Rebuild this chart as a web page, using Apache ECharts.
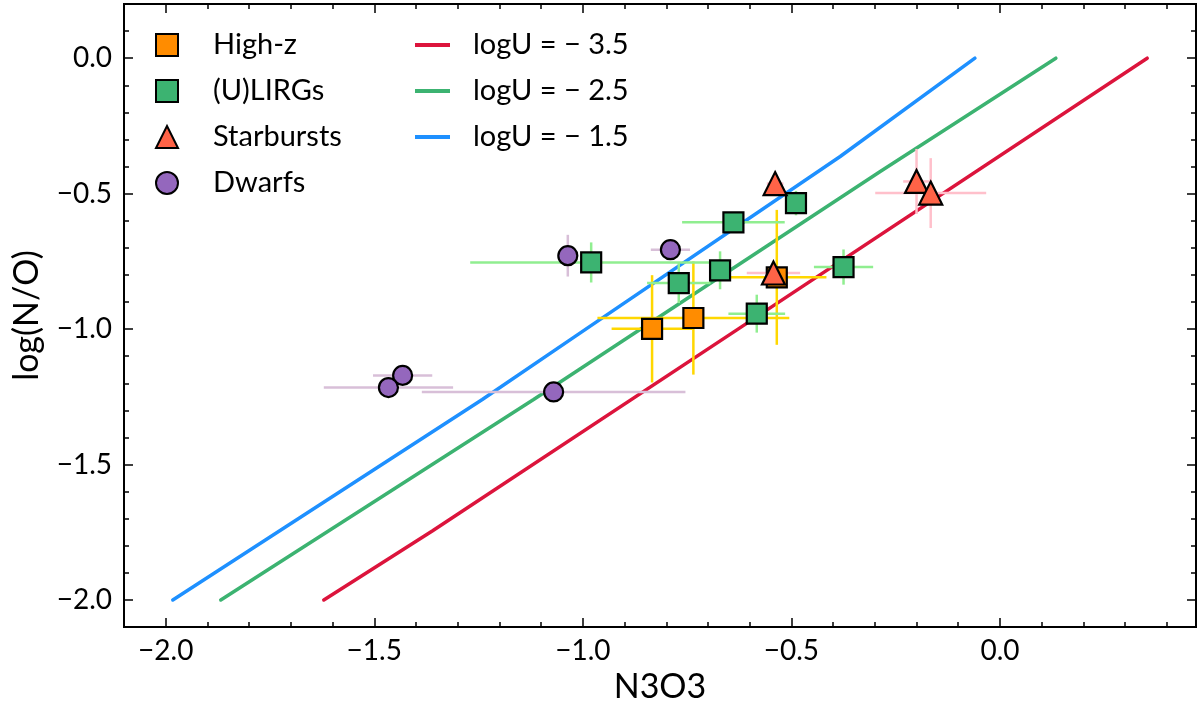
<!DOCTYPE html>
<html>
<head>
<meta charset="utf-8">
<script src="https://cdn.jsdelivr.net/npm/echarts@6/dist/echarts.min.js"></script>
<style>
  html, body { margin: 0; padding: 0; background: #fff; }
  #main { width: 1200px; height: 709px; }
</style>
</head>
<body>
<div id="main"></div>
<script>
// tick labels
var xMajor = [-2.0, -1.5, -1.0, -0.5, 0.0];
var yMajor = [-2.0, -1.5, -1.0, -0.5, 0.0];

// High-z
var highzX = [-0.834, -0.735, -0.535];
var highzY = [-0.999, -0.959, -0.809];
var highzXerr = [0.097, 0.23, 0.119];
var highzYerr = [0.198, 0.209, 0.249];

// (U)LIRGs
var ulirgX = [-0.980, -0.639, -0.489, -0.770, -0.671, -0.583, -0.375];
var ulirgY = [-0.754, -0.606, -0.535, -0.830, -0.783, -0.943, -0.771];
var ulirgXerr = [0.29, 0.123, 0.02, 0.076, 0.02, 0.068, 0.071];
var ulirgYerr = [0.074, 0.03, 0.045, 0.074, 0.07, 0.07, 0.065];

// Starbursts
var sbX = [-0.539, -0.543, -0.200, -0.166];
var sbY = [-0.463, -0.793, -0.455, -0.498];
var sbXerr = [0.02, 0.064, 0.032, 0.133];
var sbYerr = [0.02, 0.02, 0.12, 0.129];

// Dwarfs
var dwX = [-1.036, -0.790, -1.432, -1.466, -1.070];
var dwY = [-0.729, -0.707, -1.171, -1.216, -1.232];
var dwXerr = [0.02, 0.047, 0.071, 0.155, 0.316];
var dwYerr = [0.077, 0.03, 0.035, 0.02, 0.02];

// model lines
var redX = [-1.621, -1.361, -0.628, 0.353];
var redY = [-2.0, -1.745, -1.0, 0.0];
var greenX = [-1.868, -1.118, -0.287, 0.134];
var greenY = [-2.0, -1.26, -0.418, 0.0];
var blueX = [-1.983, -1.241, -1.006, -0.383, -0.06];
var blueY = [-2.0, -1.26, -1.014, -0.363, 0.0];

var FONT = 'Lato';

function minorTicks(lo, hi) {
	var out = [];
	for (var i = Math.round(lo * 10); i <= Math.round(hi * 10); i++) {
		if (i % 5 !== 0) out.push(i / 10);
	}
	return out;
}
var xMinor = minorTicks(-2.1, 0.4);
var yMinor = minorTicks(-2.1, 0.2);

function fmt(v) {
	return (v < -1e-9 ? '\u2212' : '') + Math.abs(v).toFixed(1);
}

function zip(a, b, c, d) {
	return a.map(function(v, i) {
		return c ? [v, b[i], c[i], d[i]] : [v, b[i]];
	});
}

// horizontal + vertical error bar for each point
function errRender(params, api) {
	var x = api.value(0), y = api.value(1), ex = api.value(2), ey = api.value(3);
	var a = api.coord([x - ex, y]), b = api.coord([x + ex, y]);
	var c = api.coord([x, y - ey]), d = api.coord([x, y + ey]);
	var st = { stroke: api.visual('color'), lineWidth: 2.5 };
	return {
		type: 'group',
		children: [
			{ type: 'line', shape: { x1: a[0], y1: a[1], x2: b[0], y2: b[1] }, style: st },
			{ type: 'line', shape: { x1: c[0], y1: c[1], x2: d[0], y2: d[1] }, style: st }
		]
	};
}

function xAx(pos, ticks, len, labels) {
	return {
		type: 'value', position: pos, min: -2.1, max: 0.47,
		axisLine: { show: false, onZero: false },
		splitLine: { show: false },
		axisTick: { show: true, inside: true, length: len, customValues: ticks, lineStyle: { color: '#000', width: 1.5 } },
		axisLabel: labels ? { show: true, customValues: ticks, formatter: fmt, color: '#000', fontFamily: FONT, fontSize: 28, margin: 10 } : { show: false },
		name: labels ? 'N3O3' : '',
		nameLocation: 'middle',
		nameGap: 42,
		nameTextStyle: { color: '#000', fontFamily: FONT, fontSize: 34 }
	};
}
function yAx(pos, ticks, len, labels) {
	return {
		type: 'value', position: pos, min: -2.1, max: 0.2,
		axisLine: { show: false, onZero: false },
		splitLine: { show: false },
		axisTick: { show: true, inside: true, length: len, customValues: ticks, lineStyle: { color: '#000', width: 1.5 } },
		axisLabel: labels ? { show: true, customValues: ticks, formatter: fmt, color: '#000', fontFamily: FONT, fontSize: 28, margin: 12 } : { show: false },
		name: labels ? 'log(N/O)' : '',
		nameLocation: 'middle',
		nameGap: 80,
		nameTextStyle: { color: '#000', fontFamily: FONT, fontSize: 34 }
	};
}

function errSeries(name, data, color) {
	return {
		name: name + ' err', type: 'custom', renderItem: errRender, data: data, z: 3,
		itemStyle: { color: color }, silent: true
	};
}
function ptSeries(name, data, symbol, size, color) {
	return {
		name: name, type: 'scatter', data: data, symbol: symbol, symbolSize: size, z: 4,
		itemStyle: { color: color, borderColor: '#000', borderWidth: 2.2, opacity: 1 }
	};
}
function lineSeries(name, data, color) {
	return {
		name: name, type: 'line', data: data, showSymbol: false, z: 2,
		color: color,
		lineStyle: { color: color, width: 3.5, cap: 'round' }
	};
}

var myChart = echarts.init(document.getElementById('main'));
var option = {
	animation: false,
	backgroundColor: '#fff',
	grid: { left: 124, right: 4, top: 4, bottom: 81, show: true, borderColor: '#000', borderWidth: 2, backgroundColor: 'transparent' },
	xAxis: [
		xAx('bottom', xMajor, 9, true),
		xAx('bottom', xMinor, 5, false),
		xAx('top', xMajor, 9, false),
		xAx('top', xMinor, 5, false)
	],
	yAxis: [
		yAx('left', yMajor, 9, true),
		yAx('left', yMinor, 5, false),
		yAx('right', yMajor, 9, false),
		yAx('right', yMinor, 5, false)
	],
	legend: [{
		data: ['High-z', '(U)LIRGs', 'Starbursts', 'Dwarfs'],
		orient: 'vertical',
		left: 155, top: 30, padding: 0,
		itemWidth: 22, itemHeight: 22, itemGap: 16,
		textStyle: { color: '#000', fontFamily: FONT, fontSize: 29, lineHeight: 30, padding: [0, 0, 0, 30] }
	}, {
		data: ['logU = \u2212 3.5', 'logU = \u2212 2.5', 'logU = \u2212 1.5'],
		orient: 'vertical',
		left: 415, top: 30, padding: 0,
		icon: 'rect',
		itemWidth: 35, itemHeight: 4, itemGap: 16,
		textStyle: { color: '#000', fontFamily: FONT, fontSize: 29, lineHeight: 30, padding: [0, 0, 0, 18] }
	}],
	series: [
		lineSeries('logU = \u2212 3.5', zip(redX, redY), '#DC143C'),
		lineSeries('logU = \u2212 2.5', zip(greenX, greenY), '#3CB371'),
		lineSeries('logU = \u2212 1.5', zip(blueX, blueY), '#1E90FF'),
		errSeries('High-z', zip(highzX, highzY, highzXerr, highzYerr), '#FFD700'),
		ptSeries('High-z', zip(highzX, highzY), 'rect', 20, '#FF8C00'),
		errSeries('(U)LIRGs', zip(ulirgX, ulirgY, ulirgXerr, ulirgYerr), '#90EE90'),
		ptSeries('(U)LIRGs', zip(ulirgX, ulirgY), 'rect', 20, '#3CB371'),
		errSeries('Starbursts', zip(sbX, sbY, sbXerr, sbYerr), '#FFC0CB'),
		ptSeries('Starbursts', zip(sbX, sbY), 'triangle', 23, '#FF6347'),
		errSeries('Dwarfs', zip(dwX, dwY, dwXerr, dwYerr), '#D8BFD8'),
		ptSeries('Dwarfs', zip(dwX, dwY), 'circle', 19, '#9467BD')
	]
};
myChart.setOption(option, true);
</script>
</body>
</html>
